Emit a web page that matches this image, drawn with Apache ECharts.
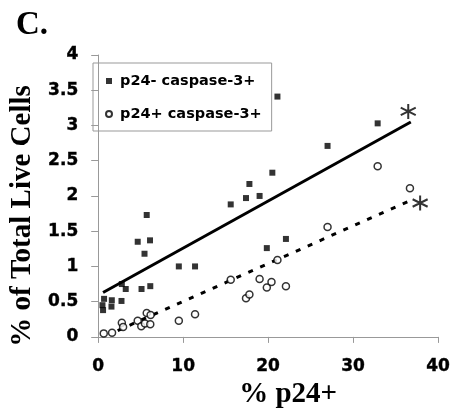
<!DOCTYPE html>
<html>
<head>
<meta charset="utf-8">
<script src="https://cdn.jsdelivr.net/npm/echarts@6/dist/echarts.min.js"></script>
<style>
html,body{margin:0;padding:0;background:#fff;}
#chart{width:453px;height:414px;}
</style>
</head>
<body>
<div id="chart"></div>
<script>
// Values
var seriesNames = ['p24- caspase-3+', 'p24+ caspase-3+'];
var p24NegCasp = [
  [0.69,0.54],[0.5,0.45],[0.57,0.38],[1.6,0.52],[1.56,0.43],[2.74,0.51],[2.78,0.75],
  [3.24,0.68],[4.65,1.35],[5.71,1.73],[5.45,1.18],[6.1,1.37],[5.1,0.68],[6.13,0.72],
  [9.49,1.0],[11.4,1.0],[15.6,1.88],[17.4,1.97],[17.8,2.17],[19.0,2.0],[21.1,3.41],
  [32.9,3.03],[27.0,2.71],[20.5,2.33],[19.85,1.26],[22.1,1.39]
];
var p24PosCasp = [
  [0.65,0.05],[1.63,0.06],[2.78,0.2],[2.93,0.14],[4.65,0.23],[5.07,0.15],[5.5,0.19],
  [5.71,0.34],[6.17,0.31],[6.13,0.18],[9.49,0.23],[11.4,0.32],[15.6,0.81],[17.4,0.55],
  [17.8,0.6],[19.0,0.82],[19.85,0.70],[20.4,0.78],[21.1,1.09],[22.1,0.72],[27.0,1.56],
  [32.9,2.42],[36.7,2.11]
];
var trendNeg = [[0.57,0.63],[36.8,3.05]];
var trendPos = [[2.29,0.09],[37.0,1.95]];
var asteriskMarks = [[36.5,3.2],[37.9,1.9]];
var xTicks = [0,10,20,30,40];
var yTicks = [0,0.5,1,1.5,2,2.5,3,3.5,4];

var chart = echarts.init(document.getElementById('chart'), null, {renderer:'canvas'});
var asteriskPath = 'path://M0,-10L0,10M-8.66,-5L8.66,5M-8.66,5L8.66,-5';
var tickFont = {fontFamily:'DejaVu Sans', fontWeight:'bold', fontSize:17, color:'#000', textBorderColor:'#000', textBorderWidth:0.4};
var axisGrey = '#999';

chart.setOption({
  animation:false,
  backgroundColor:'#fff',
  title:{
    text:'C.', left:11, top:4,
    textStyle:{fontFamily:'Liberation Serif', fontWeight:'bold', fontSize:33, color:'#000'}
  },
  grid:{left:90, right:13, top:55, bottom:77, containLabel:false},
  legend:{
    data:[
      {name:seriesNames[0], icon:'rect'},
      {name:seriesNames[1], icon:'circle'}
    ],
    orient:'vertical', left:93, top:63,
    itemWidth:6, itemHeight:6, itemGap:17,
    padding:[10,10,9,12],
    borderColor:axisGrey, borderWidth:1,
    textStyle:{fontFamily:'DejaVu Sans', fontWeight:'bold', fontSize:14.5, color:'#000', lineHeight:16, padding:[0,0,0,3]}
  },
  xAxis:{
    type:'value', min:0, max:40, interval:10,
    axisLine:{show:true, onZero:false, lineStyle:{color:axisGrey, width:1}},
    axisTick:{show:true, length:6, lineStyle:{color:axisGrey}},
    splitLine:{show:false},
    axisLabel:Object.assign({margin:21, formatter:function(v){return xTicks.indexOf(v)>=0?String(v):'';}}, tickFont),
    name:'% p24+', nameLocation:'middle', nameGap:35,
    nameTextStyle:{fontFamily:'Liberation Serif', fontWeight:'bold', fontSize:29, color:'#000', padding:[0,0,0,40]}
  },
  yAxis:{
    type:'value', min:0, max:4, interval:0.5,
    axisLine:{show:true, onZero:false, lineStyle:{color:axisGrey, width:1}},
    axisTick:{show:true, length:7, lineStyle:{color:axisGrey}},
    splitLine:{show:false},
    axisLabel:Object.assign({margin:20, formatter:function(v){return yTicks.indexOf(v)>=0?String(v):'';}}, tickFont),
    name:'% of Total Live Cells', nameLocation:'middle', nameGap:39,
    nameTextStyle:{fontFamily:'Liberation Serif', fontWeight:'bold', fontSize:29, color:'#000', padding:[0,40,0,0]}
  },
  series:[
    {
      name:'trendNeg', type:'line', data:trendNeg, symbol:'none', silent:true,
      lineStyle:{color:'#000', width:3, type:'solid'}, z:2
    },
    {
      name:'trendPos', type:'line', data:trendPos, symbol:'none', silent:true,
      lineStyle:{color:'#000', width:3, type:[5,8]}, z:2
    },
    {
      name:seriesNames[0], type:'scatter', data:p24NegCasp, symbol:'rect', symbolSize:6,
      itemStyle:{color:'#000'}, z:3
    },
    {
      name:seriesNames[1], type:'scatter', data:p24PosCasp, symbol:'circle', symbolSize:7,
      itemStyle:{color:'#fff', borderColor:'#000', borderWidth:1.5}, z:4
    },
    {
      name:'asterisks', type:'scatter', data:asteriskMarks, symbol:asteriskPath, symbolSize:15,
      itemStyle:{color:'none', borderColor:'#000', borderWidth:2}, z:5, silent:true
    }
  ]
});
</script>
</body>
</html>
